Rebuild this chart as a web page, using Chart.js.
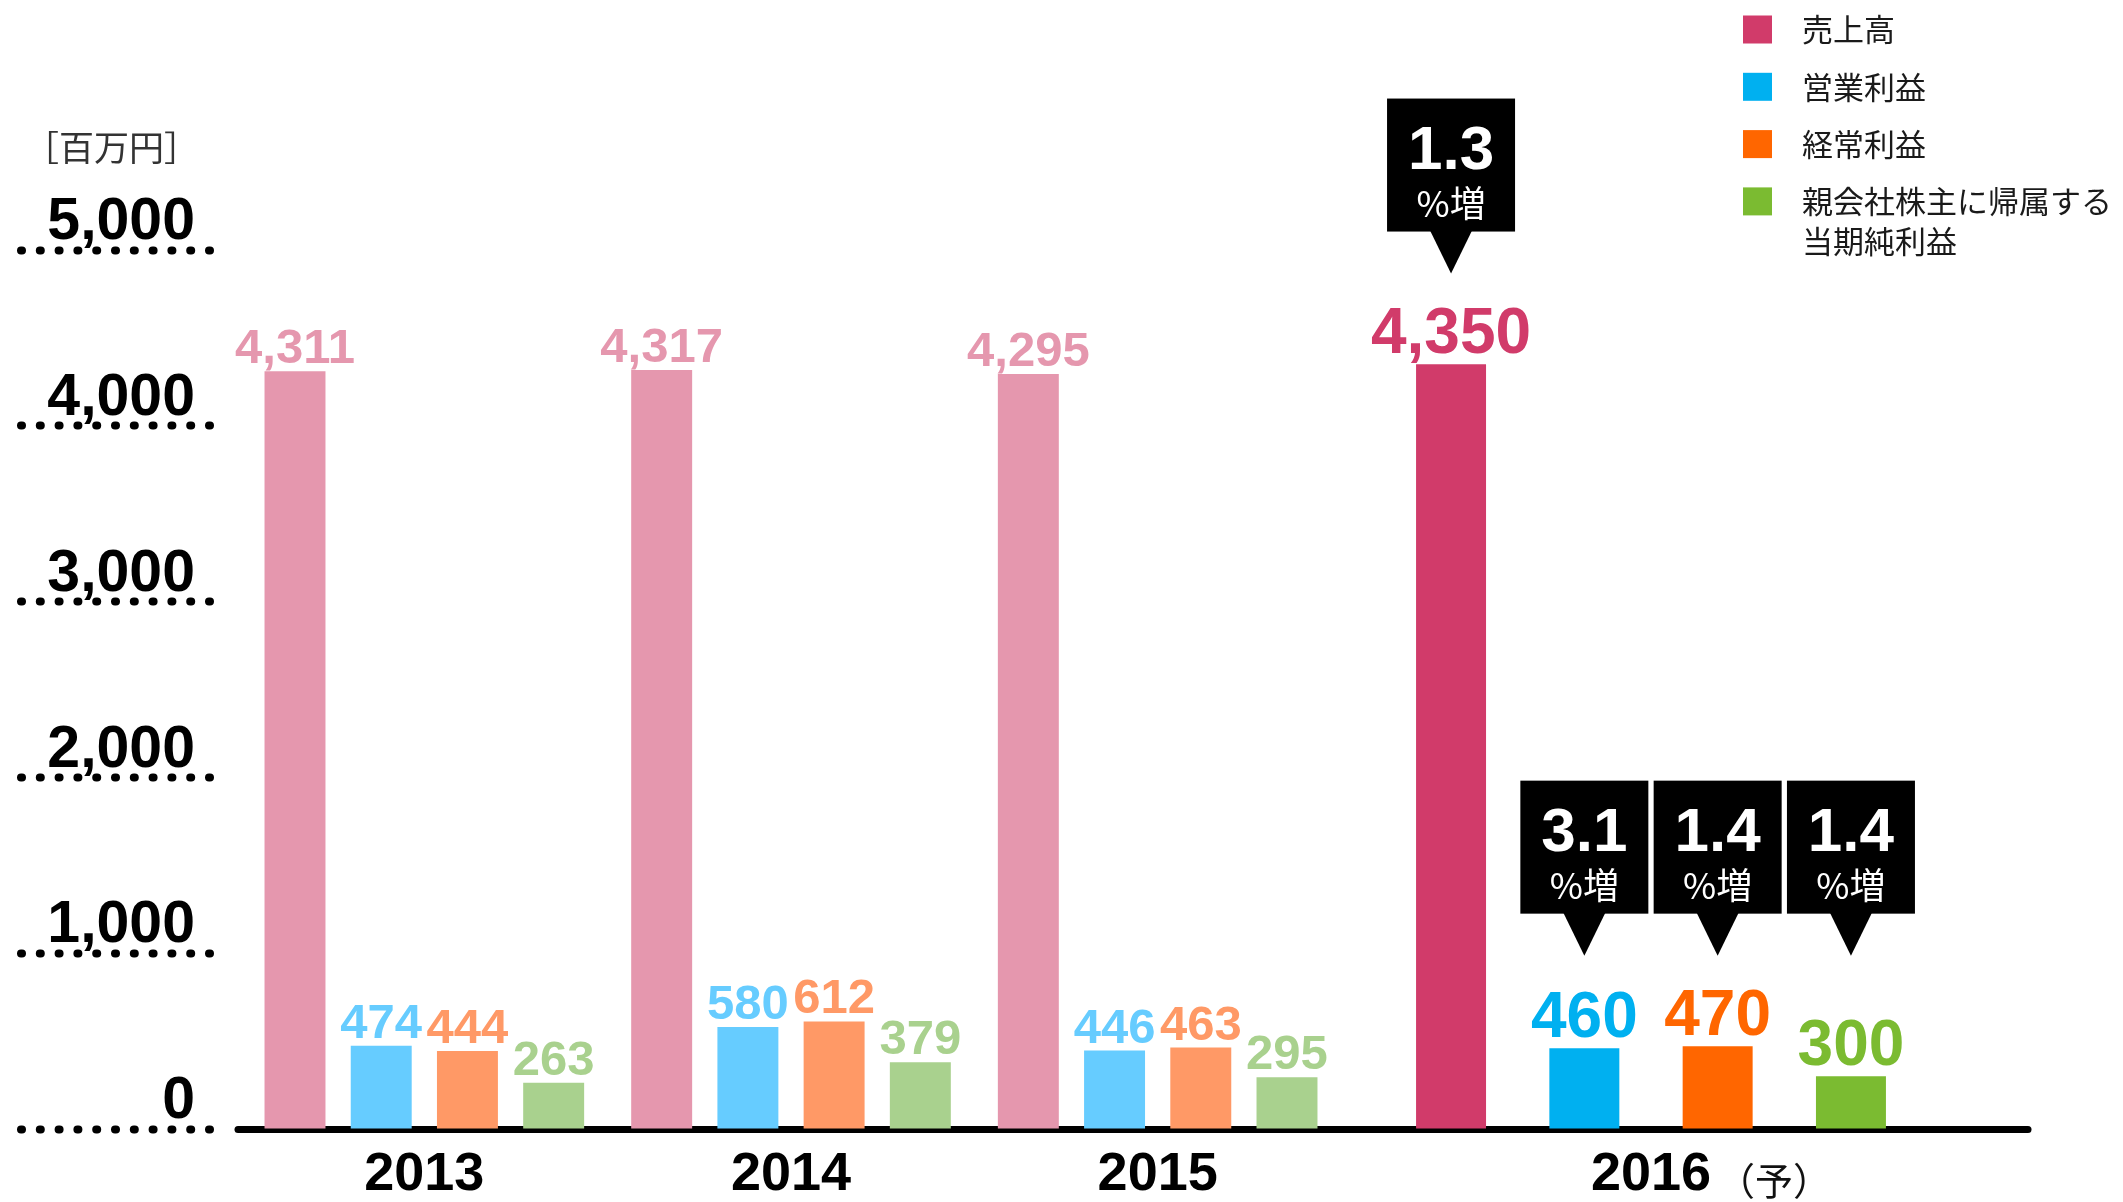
<!DOCTYPE html>
<html>
<head>
<meta charset="utf-8">
<script src="https://cdn.jsdelivr.net/npm/chart.js@4.4.1/dist/chart.umd.min.js"></script>
<style>
  html, body { margin: 0; padding: 0; background: #ffffff; overflow: hidden; }
  canvas { display: block; }
</style>
</head>
<body>
<canvas id="chart" width="2123" height="1202"></canvas>
<script>
// ---------------- data ----------------
const categories = ['2013', '2014', '2015', '2016'];
const forecastMark = '（予）';
const unitLabel = '［百万円］';
const seriesNames = ['売上高', '営業利益', '経常利益', '親会社株主に帰属する\n当期純利益'];
const sales = [4311, 4317, 4295, 4350];
const operatingProfit = [474, 580, 446, 460];
const ordinaryProfit = [444, 612, 463, 470];
const netProfit = [263, 379, 295, 300];
const forecastGrowth = ['1.3', '3.1', '1.4', '1.4'];
const growthSuffix = '%増';
const yTickStep = 1000;
const yMax = 5000;

// ---------------- styles ----------------
const pastColors = ['#E597AE', '#66CCFF', '#FF9966', '#A9D18E'];
const forecastColors = ['#D13B6A', '#00B0F0', '#FF6600', '#7BBB31'];
const NUM_FONT = '"Liberation Sans", Arial, sans-serif';
const JP_FONT = '"Noto Sans CJK JP", sans-serif';

const seriesValues = [sales, operatingProfit, ordinaryProfit, netProfit];
const nPast = 3;   // 2013-2015 actual results, 2016 forecast

// Bars on the two year-axes (actual / forecast) are grouped per axis, not side by side across axes.
(function () {
  const proto = Chart.BarController && Chart.BarController.prototype;
  if (proto && typeof proto._getAxisCount === 'function') {
    proto._getAxisCount = function () { return 1; };
  }
  if (proto && typeof proto._getAxis === 'function') {
    proto._getAxis = function () { return [this._cachedMeta.iScale.id]; };
  }
})();

const datasets = [];
seriesValues.forEach((vals, i) => {
  datasets.push({
    label: seriesNames[i], data: vals.slice(0, nPast),
    xAxisID: 'x', yAxisID: 'y',
    backgroundColor: pastColors[i], categoryPercentage: 0.9406, barPercentage: 0.707,
    forecast: false, series: i
  });
});
seriesValues.forEach((vals, i) => {
  datasets.push({
    label: seriesNames[i], data: vals.slice(nPast),
    xAxisID: 'x2', yAxisID: 'y',
    backgroundColor: forecastColors[i], categoryPercentage: 0.86, barPercentage: 0.525,
    forecast: true, series: i, growth: forecastGrowth[i]
  });
});

// ---------------- plugins ----------------
const capsPlugin = {
  id: 'caps',
  beforeDraw(chart) { chart.ctx.lineCap = 'round'; },
  beforeDatasetsDraw(chart) { chart.ctx.lineCap = 'butt'; }
};

function labelGeom(ds) {
  return ds.forecast ? { size: 64, gap: 11 } : { size: 49, gap: 8 };
}

function eachBar(chart, fn) {
  chart.data.datasets.forEach((ds, di) => {
    const meta = chart.getDatasetMeta(di);
    meta.data.forEach((el, j) => {
      const v = ds.data[j];
      if (v === null || v === undefined) return;
      fn(ds, el, v, j);
    });
  });
}

const valueLabelPlugin = {
  id: 'valueLabels',
  afterDatasetsDraw(chart) {
    const ctx = chart.ctx;
    ctx.save();
    ctx.textAlign = 'center';
    ctx.textBaseline = 'alphabetic';
    eachBar(chart, (ds, el, v) => {
      const g = labelGeom(ds);
      ctx.font = 'bold ' + g.size + 'px ' + NUM_FONT;
      ctx.fillStyle = ds.backgroundColor;
      ctx.fillText(v.toLocaleString('en-US'), el.x, el.y - g.gap);
    });
    ctx.restore();
  }
};

const calloutPlugin = {
  id: 'callouts',
  afterDatasetsDraw(chart) {
    const ctx = chart.ctx;
    const boxW = 128, boxH = 133, triH = 42, triW = 42;
    const items = [];
    eachBar(chart, (ds, el) => {
      if (!ds.forecast) return;
      const g = labelGeom(ds);
      const labelTop = el.y - g.gap - g.size * 0.73;
      items.push({ x: el.x, tip: labelTop - 33, text: ds.growth });
    });
    // callouts that sit near each other share a common tip height
    items.forEach(a => {
      a.tipAligned = a.tip;
      items.forEach(b => { if (Math.abs(a.tip - b.tip) < 100) a.tipAligned = Math.min(a.tipAligned, b.tip); });
    });
    ctx.save();
    items.forEach(it => {
      const tip = it.tipAligned;
      const top = tip - triH - boxH;
      ctx.fillStyle = '#000';
      ctx.fillRect(it.x - boxW / 2, top, boxW, boxH);
      ctx.beginPath();
      ctx.moveTo(it.x - triW / 2, top + boxH - 1);
      ctx.lineTo(it.x + triW / 2, top + boxH - 1);
      ctx.lineTo(it.x, tip);
      ctx.closePath();
      ctx.fill();
      ctx.fillStyle = '#fff';
      ctx.textAlign = 'center';
      ctx.textBaseline = 'alphabetic';
      ctx.font = 'bold 62px ' + NUM_FONT;
      ctx.fillText(it.text, it.x, top + 70);
      ctx.textBaseline = 'middle';
      ctx.font = '36px ' + JP_FONT;
      ctx.fillText(growthSuffix, it.x, top + 105);
    });
    ctx.restore();
  }
};

const legendPlugin = {
  id: 'sideLegend',
  afterDraw(chart) {
    const ctx = chart.ctx;
    const x0 = chart.width - 380;
    ctx.save();
    ctx.font = '31px ' + JP_FONT;
    ctx.textAlign = 'left';
    ctx.textBaseline = 'middle';
    let k = 0;
    chart.data.datasets.forEach(ds => {
      if (!ds.forecast) return;
      const cy = 29.5 + k * 57.3;
      ctx.fillStyle = ds.backgroundColor;
      ctx.fillRect(x0, cy - 14, 29, 28);
      ctx.fillStyle = '#1a1a1a';
      ds.label.split('\n').forEach((line, li) => ctx.fillText(line, x0 + 59, cy + li * 40));
      k++;
    });
    ctx.restore();
  }
};

const forecastMarkPlugin = {
  id: 'forecastMark',
  afterDraw(chart) {
    const sc = chart.scales.x2;
    const ctx = chart.ctx;
    const tick = sc.ticks[0];
    if (!tick) return;
    ctx.save();
    const tickFont = sc.options.ticks.font;
    ctx.font = 'bold ' + tickFont.size + 'px ' + tickFont.family;
    const w = ctx.measureText(tick.label).width;
    const px = sc.getPixelForTick(0);
    ctx.font = '38px ' + JP_FONT;
    ctx.fillStyle = '#111';
    ctx.textAlign = 'left';
    ctx.textBaseline = 'middle';
    ctx.fillText(forecastMark, px + w / 2 + 6, sc.top + 52);
    ctx.restore();
  }
};

// ---------------- scales ----------------
const xTickFont = { family: NUM_FONT, weight: 'bold', size: 54, lineHeight: 1 };
function xAxis(labels, weight, showTicks, showBorder) {
  return {
    type: 'category', position: 'bottom', stack: 'years', stackWeight: weight,
    labels: labels, offset: true, z: 1,
    grid: { display: false, drawTicks: false },
    border: { display: showBorder, color: '#000', width: 7 },
    ticks: { display: showTicks, padding: 19, color: '#000', font: xTickFont, maxRotation: 0, autoSkip: false },
    afterFit(s) { s.height = 73; }
  };
}

new Chart(document.getElementById('chart'), {
  type: 'bar',
  data: { datasets },
  options: {
    responsive: false,
    animation: false,
    devicePixelRatio: 1,
    layout: { padding: { top: 130, left: 24, right: 96, bottom: 0 } },
    plugins: {
      legend: { display: false },
      tooltip: { enabled: false },
      title: {
        display: true, text: unitLabel, align: 'start', color: '#333',
        font: { family: JP_FONT, size: 35, weight: 'normal', lineHeight: 1 },
        padding: { top: 0, bottom: 85 }
      }
    },
    scales: {
      y: {
        type: 'linear', position: 'left', min: 0, max: yMax, stacked: false,
        grid: {
          drawOnChartArea: false, drawTicks: true, tickLength: 190, tickWidth: 8,
          tickColor: '#000', tickBorderDash: [1, 17.8]
        },
        border: { display: false },
        ticks: {
          stepSize: yTickStep, padding: -174, labelOffset: -27, color: '#000',
          font: { family: NUM_FONT, weight: 'bold', size: 59, lineHeight: 1 },
          callback: v => v.toLocaleString('en-US')
        },
        afterFit(s) { s.width = 187; }
      },
      xpadL: xAxis([''], 30, false, false),
      x: xAxis(categories.slice(0, nPast), 1100, true, true),
      x2: xAxis(categories.slice(nPast), 620, true, true),
      xpadR: xAxis([''], 66, false, true)
    }
  },
  plugins: [capsPlugin, valueLabelPlugin, calloutPlugin, legendPlugin, forecastMarkPlugin]
});
</script>
</body>
</html>
